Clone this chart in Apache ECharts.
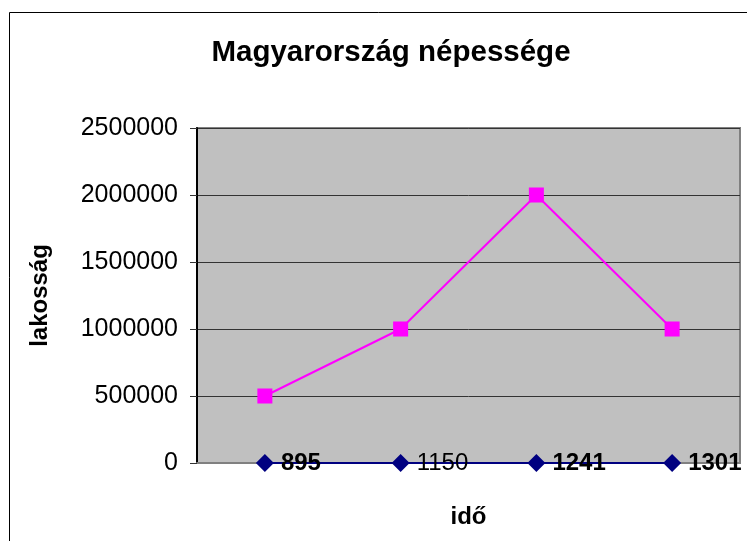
<!DOCTYPE html>
<html>
<head>
<meta charset="utf-8">
<script src="https://cdn.jsdelivr.net/npm/echarts@6/dist/echarts.min.js"></script>
<style>html,body{margin:0;padding:0;background:#fff}#c{width:747px;height:541px}</style>
</head>
<body>
<div id="c"></div>
<script>
const years = ['895', '1150', '1241', '1301'];
const population = [500000, 1000000, 2000000, 1000000];
const timeSeries = [0, 0, 0, 0];
const yTicks = [0, 500000, 1000000, 1500000, 2000000, 2500000];

const FONT = 'Liberation Sans, Arial, sans-serif';
const chart = echarts.init(document.getElementById('c'));
chart.setOption({
  animation: false,
  backgroundColor: '#fff',
  title: {
    text: 'Magyarország népessége',
    left: 386,
    textAlign: 'center',
    top: 33,
    textStyle: { fontFamily: FONT, fontSize: 29.5, fontWeight: 'bold', color: '#000' }
  },
  graphic: [{
    type: 'rect', z: -10, silent: true,
    shape: { x: 9.5, y: 12.5, width: 900, height: 700 },
    style: { fill: 'none', stroke: '#000', lineWidth: 1 }
  }],
  grid: {
    left: 197, right: 7, top: 128, bottom: 78,
    show: true, backgroundColor: '#C0C0C0', borderColor: '#808080', borderWidth: 2
  },
  xAxis: {
    type: 'category',
    data: years,
    boundaryGap: true,
    name: 'idő',
    nameLocation: 'middle',
    nameGap: 42,
    nameTextStyle: { fontFamily: FONT, fontSize: 24, fontWeight: 'bold', color: '#000' },
    axisLine: { show: true, lineStyle: { color: '#808080', width: 2 } },
    axisTick: { show: false },
    axisLabel: { show: false },
    splitLine: { show: false }
  },
  yAxis: {
    type: 'value',
    min: yTicks[0],
    max: yTicks[yTicks.length - 1],
    interval: yTicks[1] - yTicks[0],
    name: 'lakosság',
    nameLocation: 'middle',
    nameGap: 145,
    nameTextStyle: { fontFamily: FONT, fontSize: 24, fontWeight: 'bold', color: '#000' },
    axisLine: { show: true, lineStyle: { color: '#000', width: 2 } },
    axisTick: { show: true, inside: false, length: 7, lineStyle: { color: '#333', width: 1 } },
    axisLabel: { margin: 19, fontFamily: FONT, fontSize: 25, color: '#000', formatter: v => String(v) },
    splitLine: { show: true, lineStyle: { color: '#333', width: 1 } }
  },
  series: [
    {
      type: 'line',
      data: timeSeries.map((v, i) => ({
        value: v,
        label: { fontWeight: years[i] === '1150' ? 'normal' : 'bold' }
      })),
      symbol: 'diamond',
      symbolSize: 18,
      itemStyle: { color: '#000080' },
      lineStyle: { color: '#000080', width: 2 },
      z: 3,
      label: {
        show: true,
        position: 'right',
        distance: 7,
        fontFamily: FONT,
        fontSize: 24,
        color: '#000',
        formatter: p => years[p.dataIndex]
      }
    },
    {
      type: 'line',
      data: population,
      symbol: 'rect',
      symbolSize: 15,
      itemStyle: { color: '#FF00FF' },
      lineStyle: { color: '#FF00FF', width: 2 },
      z: 4
    }
  ]
});
</script>
</body>
</html>
